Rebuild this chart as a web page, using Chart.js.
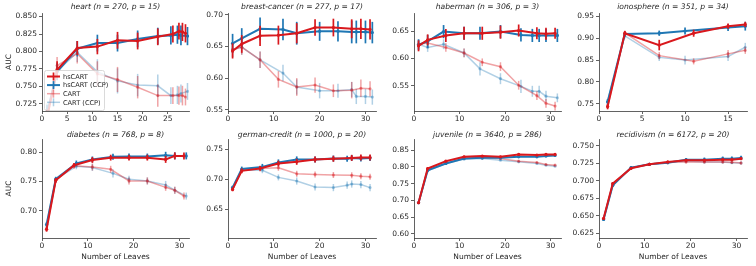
<!DOCTYPE html>
<html>
<head>
<meta charset="utf-8">
<script src="https://cdn.jsdelivr.net/npm/chart.js@4/dist/chart.umd.min.js"></script>
<style>
  body { margin: 0; background: #fff; }
  #figure { position: relative; width: 756px; height: 266px; overflow: hidden; }
  #figure canvas { position: absolute; }
</style>
</head>
<body>
<div id="figure"></div>
<script>
// ---- data ----
const seriesNames = ["hsCART", "hsCART (CCP)", "CART", "CART (CCP)"];
const leaves = [1, 3, 7, 11, 15, 19, 23, 27, 29, 31];

// heart
const heartX = [1, 3, 7, 11, 15, 19, 23, 26, 27.2, 27.9, 28.5];
const heartXCcp = [1, 3, 7, 11, 15, 19, 23, 25.6, 26.9, 27.6, 28.9];
const heartHs = [0.705, 0.774, 0.805, 0.807, 0.816, 0.815, 0.821, 0.825, 0.829, 0.828, 0.826];
const heartHsErr = [0.012, 0.012, 0.010, 0.011, 0.012, 0.012, 0.012, 0.012, 0.012, 0.013, 0.013];
const heartHsCcp = [0.712, 0.771, 0.804, 0.812, 0.812, 0.818, 0.822, 0.823, 0.824, 0.823, 0.822];
const heartHsCcpErr = [0.012, 0.012, 0.011, 0.012, 0.012, 0.012, 0.012, 0.013, 0.013, 0.014, 0.013];
const heartCart = [0.705, 0.780, 0.797, 0.768, 0.760, 0.749, 0.737, 0.737, 0.737, 0.737, 0.735];
const heartCartErr = [0.014, 0.012, 0.014, 0.018, 0.018, 0.016, 0.016, 0.012, 0.013, 0.014, 0.012];
const heartCartCcp = [0.712, 0.772, 0.799, 0.771, 0.758, 0.752, 0.751, 0.737, 0.738, 0.740, 0.743];
const heartCartCcpErr = [0.014, 0.012, 0.014, 0.018, 0.018, 0.016, 0.016, 0.012, 0.013, 0.013, 0.012];
const heartYTicks = [0.725, 0.750, 0.775, 0.800, 0.825, 0.850];

// breast-cancer
const breastXCcp = [1, 3, 7, 12, 15, 20, 24, 27, 28, 30, 31.5];
const breastHs = [0.643, 0.654, 0.667, 0.668, 0.671, 0.680, 0.680, 0.678, 0.678, 0.677];
const breastHsErr = [0.012, 0.014, 0.016, 0.015, 0.016, 0.013, 0.014, 0.015, 0.016, 0.016];
const breastHsCcp = [0.655, 0.663, 0.678, 0.677, 0.671, 0.674, 0.674, 0.673, 0.673, 0.673, 0.672];
const breastHsCcpErr = [0.015, 0.016, 0.018, 0.017, 0.018, 0.015, 0.016, 0.018, 0.018, 0.018, 0.017];
const breastCart = [0.645, 0.649, 0.629, 0.598, 0.586, 0.589, 0.580, 0.581, 0.584, 0.583];
const breastCartErr = [0.012, 0.012, 0.013, 0.013, 0.014, 0.012, 0.010, 0.013, 0.014, 0.012];
const breastCartCcp = [0.645, 0.649, 0.629, 0.608, 0.586, 0.580, 0.580, 0.582, 0.571, 0.571, 0.570];
const breastCartCcpErr = [0.012, 0.012, 0.013, 0.013, 0.012, 0.012, 0.011, 0.012, 0.012, 0.012, 0.012];
const breastYTicks = [0.55, 0.60, 0.65, 0.70];

// haberman
const habermanXCcp = [1, 3, 6.5, 11, 14.5, 19, 23.5, 26, 27.5, 29, 31.5];
const habermanHs = [0.623, 0.634, 0.642, 0.646, 0.646, 0.648, 0.651, 0.646, 0.645, 0.646];
const habermanHsErr = [0.010, 0.010, 0.012, 0.012, 0.012, 0.012, 0.011, 0.011, 0.011, 0.010];
const habermanHsCcp = [0.625, 0.631, 0.649, 0.646, 0.646, 0.649, 0.643, 0.642, 0.642, 0.642, 0.642];
const habermanHsCcpErr = [0.010, 0.012, 0.012, 0.012, 0.012, 0.012, 0.012, 0.012, 0.012, 0.012, 0.012];
const habermanCart = [0.626, 0.628, 0.620, 0.610, 0.593, 0.585, 0.551, 0.532, 0.518, 0.513];
const habermanCartErr = [0.008, 0.008, 0.008, 0.008, 0.007, 0.008, 0.008, 0.008, 0.008, 0.008];
const habermanCartCcp = [0.626, 0.620, 0.626, 0.610, 0.581, 0.563, 0.549, 0.540, 0.540, 0.531, 0.528];
const habermanCartCcpErr = [0.008, 0.008, 0.009, 0.008, 0.012, 0.010, 0.012, 0.010, 0.010, 0.010, 0.008];
const habermanYTicks = [0.55, 0.60, 0.65];

// ionosphere
const ionoX = [1, 3, 7, 11, 15, 17];
const ionoXCcp = [1, 3, 7, 10, 15, 17];
const ionoHs = [0.744, 0.911, 0.884, 0.911, 0.927, 0.931];
const ionoHsErr = [0.006, 0.005, 0.012, 0.008, 0.006, 0.006];
const ionoHsCcp = [0.755, 0.909, 0.911, 0.916, 0.924, 0.927];
const ionoHsCcpErr = [0.006, 0.006, 0.006, 0.008, 0.008, 0.010];
const ionoCart = [0.744, 0.912, 0.860, 0.847, 0.864, 0.872];
const ionoCartErr = [0.006, 0.005, 0.008, 0.007, 0.009, 0.008];
const ionoCartCcp = [0.755, 0.905, 0.856, 0.850, 0.858, 0.879];
const ionoCartCcpErr = [0.006, 0.006, 0.008, 0.010, 0.010, 0.010];
const ionoYTicks = [0.75, 0.80, 0.85, 0.90, 0.95];

// diabetes
const diabetesXCcp = [1, 3, 7.5, 11, 15.5, 19, 23, 27, 29, 31.5];
const diabetesHs = [0.668, 0.752, 0.778, 0.787, 0.791, 0.791, 0.791, 0.788, 0.794, 0.794];
const diabetesHsErr = [0.004, 0.004, 0.004, 0.005, 0.005, 0.005, 0.005, 0.006, 0.006, 0.006];
const diabetesHsCcp = [0.676, 0.754, 0.781, 0.788, 0.7925, 0.793, 0.793, 0.795, 0.794, 0.794];
const diabetesHsCcpErr = [0.004, 0.004, 0.005, 0.005, 0.005, 0.005, 0.005, 0.006, 0.006, 0.006];
const diabetesCart = [0.668, 0.752, 0.777, 0.775, 0.771, 0.751, 0.751, 0.740, 0.735, 0.725];
const diabetesCartErr = [0.004, 0.004, 0.005, 0.006, 0.006, 0.006, 0.006, 0.006, 0.006, 0.006];
const diabetesCartCcp = [0.676, 0.754, 0.776, 0.774, 0.764, 0.754, 0.751, 0.744, 0.735, 0.725];
const diabetesCartCcpErr = [0.004, 0.004, 0.005, 0.006, 0.007, 0.006, 0.006, 0.007, 0.006, 0.006];
const diabetesYTicks = [0.70, 0.75, 0.80];

// german-credit
const germanXCcp = [1, 3, 7.5, 11, 15, 19, 23, 26, 27, 29, 31];
const germanHs = [0.683, 0.714, 0.718, 0.726, 0.729, 0.733, 0.734, 0.7355, 0.736, 0.736];
const germanHsErr = [0.003, 0.004, 0.004, 0.005, 0.005, 0.005, 0.005, 0.005, 0.005, 0.005];
const germanHsCcp = [0.686, 0.717, 0.7205, 0.728, 0.733, 0.733, 0.7345, 0.734, 0.7355, 0.7345, 0.7355];
const germanHsCcpErr = [0.003, 0.004, 0.005, 0.005, 0.005, 0.005, 0.005, 0.005, 0.005, 0.005, 0.005];
const germanCart = [0.683, 0.715, 0.718, 0.719, 0.709, 0.708, 0.707, 0.7065, 0.705, 0.704];
const germanCartErr = [0.003, 0.004, 0.005, 0.005, 0.005, 0.005, 0.005, 0.005, 0.005, 0.005];
const germanCartCcp = [0.686, 0.715, 0.715, 0.703, 0.697, 0.687, 0.686, 0.690, 0.692, 0.691, 0.686];
const germanCartCcpErr = [0.003, 0.004, 0.005, 0.005, 0.006, 0.006, 0.006, 0.006, 0.006, 0.006, 0.006];
const germanYTicks = [0.65, 0.70, 0.75];

// juvenile
const juvenileHs = [0.693, 0.795, 0.817, 0.830, 0.832, 0.830, 0.837, 0.835, 0.837, 0.837];
const juvenileHsErr = [0.003, 0.004, 0.003, 0.003, 0.003, 0.003, 0.003, 0.003, 0.003, 0.003];
const juvenileHsCcp = [0.693, 0.790, 0.810, 0.825, 0.827, 0.827, 0.830, 0.830, 0.832, 0.834];
const juvenileHsCcpErr = [0.003, 0.004, 0.003, 0.003, 0.003, 0.003, 0.003, 0.003, 0.003, 0.003];
const juvenileCart = [0.693, 0.793, 0.815, 0.827, 0.827, 0.825, 0.817, 0.813, 0.807, 0.805];
const juvenileCartErr = [0.003, 0.004, 0.003, 0.003, 0.003, 0.003, 0.003, 0.003, 0.003, 0.003];
const juvenileCartCcp = [0.693, 0.788, 0.810, 0.823, 0.825, 0.820, 0.815, 0.810, 0.805, 0.802];
const juvenileCartCcpErr = [0.003, 0.004, 0.003, 0.003, 0.003, 0.003, 0.003, 0.003, 0.003, 0.003];
const juvenileYTicks = [0.60, 0.65, 0.70, 0.75, 0.80, 0.85];

// recidivism
const recidHs = [0.646, 0.696, 0.718, 0.7237, 0.727, 0.7294, 0.7294, 0.7304, 0.7304, 0.7318];
const recidHsErr = [0.002, 0.002, 0.002, 0.002, 0.002, 0.002, 0.002, 0.002, 0.002, 0.002];
const recidHsCcp = [0.6446, 0.6935, 0.719, 0.7237, 0.726, 0.7304, 0.7304, 0.7318, 0.7318, 0.7328];
const recidHsCcpErr = [0.002, 0.002, 0.002, 0.002, 0.002, 0.002, 0.003, 0.003, 0.003, 0.003];
const recidCart = [0.646, 0.696, 0.718, 0.7237, 0.727, 0.727, 0.727, 0.727, 0.7265, 0.7256];
const recidCartErr = [0.002, 0.002, 0.002, 0.002, 0.002, 0.002, 0.002, 0.002, 0.002, 0.002];
const recidCartCcp = [0.6446, 0.6935, 0.719, 0.7237, 0.726, 0.728, 0.727, 0.727, 0.726, 0.7256];
const recidCartCcpErr = [0.002, 0.002, 0.002, 0.002, 0.002, 0.002, 0.002, 0.002, 0.002, 0.002];
const recidYTicks = [0.625, 0.650, 0.675, 0.700, 0.725, 0.750];

const xTicks30 = [0, 10, 20, 30];

// ---- style ----
const RED = "#d9181d";
const BLUE = "#1f77b4";
const RED_LIGHT = "rgba(217, 24, 29, 0.4)";
const BLUE_LIGHT = "rgba(31, 119, 180, 0.35)";
const FONT = "'DejaVu Sans', sans-serif";
const TEXT = "#262626";
const SPINE = "#3a3a3a";

// col: plot left/right, row: canvas top, plot height, x-axis height
const cols = [
    { left: 42, right: 193, yw: 42 },
    { left: 228, right: 380, yw: 30 },
    { left: 414, right: 565, yw: 30 },
    { left: 599, right: 751, yw: 30 }
];
const rows = [
    { top: 0, plotH: 98, xh: 15, titleY: 7 },
    { top: 126, plotH: 99, xh: 28, titleY: 9 }
];
const TITLE_H = 13;

function pts(xs, ys) {
    return xs.map((x, i) => ({ x: x, y: ys[i] }));
}

function makeSeries(x, xCcp, hs, hsErr, hsCcp, hsCcpErr, cart, cartErr, cartCcp, cartCcpErr) {
    return [
        { label: seriesNames[0], data: pts(x, hs), errors: hsErr, borderColor: RED, borderWidth: 2, order: 0 },
        { label: seriesNames[1], data: pts(xCcp, hsCcp), errors: hsCcpErr, borderColor: BLUE, borderWidth: 2, order: 1 },
        { label: seriesNames[2], data: pts(x, cart), errors: cartErr, borderColor: RED_LIGHT, borderWidth: 1.5, order: 2 },
        { label: seriesNames[3], data: pts(xCcp, cartCcp), errors: cartCcpErr, borderColor: BLUE_LIGHT, borderWidth: 1.5, order: 3 }
    ];
}

const panels = [
    { title: "heart (n = 270, p = 15)", row: 0, col: 0, xMax: 29.2, xTicks: [0, 5, 10, 15, 20, 25],
      yMin: 0.715, yMax: 0.855, yTicks: heartYTicks, dec: 3, legend: true,
      series: makeSeries(heartX, heartXCcp, heartHs, heartHsErr, heartHsCcp, heartHsCcpErr, heartCart, heartCartErr, heartCartCcp, heartCartCcpErr) },
    { title: "breast-cancer (n = 277, p = 17)", row: 0, col: 1, xMax: 32.3, xTicks: xTicks30,
      yMin: 0.548, yMax: 0.703, yTicks: breastYTicks, dec: 2,
      series: makeSeries(leaves, breastXCcp, breastHs, breastHsErr, breastHsCcp, breastHsCcpErr, breastCart, breastCartErr, breastCartCcp, breastCartCcpErr) },
    { title: "haberman (n = 306, p = 3)", row: 0, col: 2, xMax: 32.3, xTicks: xTicks30,
      yMin: 0.504, yMax: 0.683, yTicks: habermanYTicks, dec: 2,
      series: makeSeries(leaves, habermanXCcp, habermanHs, habermanHsErr, habermanHsCcp, habermanHsCcpErr, habermanCart, habermanCartErr, habermanCartCcp, habermanCartCcpErr) },
    { title: "ionosphere (n = 351, p = 34)", row: 0, col: 3, xMax: 17.2, xTicks: [0, 5, 10, 15],
      yMin: 0.734, yMax: 0.957, yTicks: ionoYTicks, dec: 2,
      series: makeSeries(ionoX, ionoXCcp, ionoHs, ionoHsErr, ionoHsCcp, ionoHsCcpErr, ionoCart, ionoCartErr, ionoCartCcp, ionoCartCcpErr) },
    { title: "diabetes (n = 768, p = 8)", row: 1, col: 0, xMax: 32.1, xTicks: xTicks30,
      yMin: 0.653, yMax: 0.823, yTicks: diabetesYTicks, dec: 2,
      series: makeSeries(leaves, diabetesXCcp, diabetesHs, diabetesHsErr, diabetesHsCcp, diabetesHsCcpErr, diabetesCart, diabetesCartErr, diabetesCartCcp, diabetesCartCcpErr) },
    { title: "german-credit (n = 1000, p = 20)", row: 1, col: 1, xMax: 32.3, xTicks: xTicks30,
      yMin: 0.602, yMax: 0.767, yTicks: germanYTicks, dec: 2,
      series: makeSeries(leaves, germanXCcp, germanHs, germanHsErr, germanHsCcp, germanHsCcpErr, germanCart, germanCartErr, germanCartCcp, germanCartCcpErr) },
    { title: "juvenile (n = 3640, p = 286)", row: 1, col: 2, xMax: 32.3, xTicks: xTicks30,
      yMin: 0.588, yMax: 0.883, yTicks: juvenileYTicks, dec: 2,
      series: makeSeries(leaves, leaves, juvenileHs, juvenileHsErr, juvenileHsCcp, juvenileHsCcpErr, juvenileCart, juvenileCartErr, juvenileCartCcp, juvenileCartCcpErr) },
    { title: "recidivism (n = 6172, p = 20)", row: 1, col: 3, xMax: 32.3, xTicks: xTicks30,
      yMin: 0.618, yMax: 0.760, yTicks: recidYTicks, dec: 3,
      series: makeSeries(leaves, leaves, recidHs, recidHsErr, recidHsCcp, recidHsCcpErr, recidCart, recidCartErr, recidCartCcp, recidCartCcpErr) }
];

// Vertical error bars, drawn right after each dataset so layering follows dataset order
const errorBarPlugin = {
    id: "errorBars",
    afterDatasetDraw(chart, args) {
        const ds = chart.data.datasets[args.index];
        if (!ds.errors) return;
        const ctx = chart.ctx;
        const area = chart.chartArea;
        const yScale = chart.scales.y;
        ctx.save();
        ctx.beginPath();
        ctx.rect(area.left, area.top, area.right - area.left, area.bottom - area.top);
        ctx.clip();
        ctx.strokeStyle = ds.borderColor;
        ctx.lineWidth = ds.order < 2 ? 1.7 : 1.5;
        args.meta.data.forEach((pt, i) => {
            const v = ds.data[i].y;
            const e = ds.errors[i];
            ctx.beginPath();
            ctx.moveTo(pt.x, yScale.getPixelForValue(v - e));
            ctx.lineTo(pt.x, yScale.getPixelForValue(v + e));
            ctx.stroke();
        });
        ctx.restore();
    }
};

// Panel title centred over the plot area (not the whole canvas)
const panelTitlePlugin = {
    id: "panelTitle",
    afterDraw(chart, args, opts) {
        const ctx = chart.ctx;
        const area = chart.chartArea;
        ctx.save();
        ctx.font = "italic 7.6px " + FONT;
        ctx.fillStyle = TEXT;
        ctx.textAlign = "center";
        ctx.textBaseline = "middle";
        ctx.fillText(opts.text, (area.left + area.right) / 2, opts.y);
        ctx.restore();
    }
};

// Boxed legend inside the plot area (lower left), like the matplotlib one
const innerLegendPlugin = {
    id: "innerLegend",
    afterDraw(chart, args, opts) {
        if (!opts.show) return;
        const ctx = chart.ctx;
        const area = chart.chartArea;
        const x0 = area.left + 2, y0 = area.bottom - 41, w = 60, h = 40;
        ctx.save();
        ctx.beginPath();
        ctx.roundRect(x0 + 0.5, y0 + 0.5, w, h, 2);
        ctx.fillStyle = "rgba(255,255,255,0.8)";
        ctx.fill();
        ctx.strokeStyle = "#d0d0d0";
        ctx.lineWidth = 0.8;
        ctx.stroke();
        ctx.font = "6.6px " + FONT;
        ctx.textBaseline = "middle";
        chart.data.datasets.forEach((ds, i) => {
            const cy = y0 + 6.5 + i * 8.6;
            ctx.strokeStyle = ds.borderColor;
            ctx.lineWidth = ds.borderWidth;
            ctx.beginPath();
            ctx.moveTo(x0 + 3, cy);
            ctx.lineTo(x0 + 16, cy);
            ctx.stroke();
            ctx.lineWidth = ds.order < 2 ? 1.7 : 1.5;
            ctx.beginPath();
            ctx.moveTo(x0 + 9.5, cy - 4);
            ctx.lineTo(x0 + 9.5, cy + 4);
            ctx.stroke();
            ctx.fillStyle = TEXT;
            ctx.fillText(ds.label, x0 + 19, cy + 0.5);
        });
        ctx.restore();
    }
};

function createPanel(p) {
    const col = cols[p.col];
    const row = rows[p.row];
    const canvas = document.createElement("canvas");
    const width = col.yw + (col.right - col.left);
    const height = TITLE_H + row.plotH + row.xh;
    canvas.width = width;
    canvas.height = height;
    canvas.style.left = (col.left - col.yw) + "px";
    canvas.style.top = row.top + "px";
    document.getElementById("figure").appendChild(canvas);

    const tickFont = { family: FONT, size: 7.5 };
    const datasets = p.series.map((s) => ({
        label: s.label,
        data: s.data,
        errors: s.errors,
        order: s.order,
        borderColor: s.borderColor,
        backgroundColor: s.borderColor,
        borderWidth: s.borderWidth,
        pointBackgroundColor: s.borderColor,
        pointBorderWidth: 0,
        pointRadius: 1.6,
        tension: 0
    }));

    new Chart(canvas, {
        type: "line",
        data: { datasets: datasets },
        plugins: [errorBarPlugin, innerLegendPlugin, panelTitlePlugin],
        options: {
            responsive: false,
            animation: false,
            devicePixelRatio: 1,
            layout: { padding: { top: TITLE_H, left: 0, right: 0, bottom: 0 } },
            plugins: {
                legend: { display: false },
                tooltip: { enabled: false },
                title: { display: false },
                innerLegend: { show: !!p.legend },
                panelTitle: { text: p.title, y: row.titleY }
            },
            scales: {
                x: {
                    type: "linear",
                    min: 0,
                    max: p.xMax,
                    afterBuildTicks: (s) => { s.ticks = p.xTicks.map((v) => ({ value: v })); },
                    afterFit: (s) => { s.height = row.xh; },
                    ticks: { font: tickFont, color: TEXT, padding: 1, maxRotation: 0, autoSkip: false },
                    grid: { drawOnChartArea: false, tickLength: 3, color: SPINE, lineWidth: 0.8 },
                    border: { color: SPINE, width: 0.8 },
                    title: {
                        display: p.row === 1,
                        text: "Number of Leaves",
                        color: TEXT,
                        font: { family: FONT, size: 7.5, lineHeight: 1.2 },
                        padding: { top: 4.5, bottom: 4.5 }
                    }
                },
                y: {
                    type: "linear",
                    min: p.yMin,
                    max: p.yMax,
                    afterBuildTicks: (s) => { s.ticks = p.yTicks.map((v) => ({ value: v })); },
                    afterFit: (s) => { s.width = col.yw; },
                    ticks: {
                        font: tickFont, color: TEXT, padding: 2, autoSkip: false,
                        callback: (v) => Number(v).toFixed(p.dec)
                    },
                    grid: { drawOnChartArea: false, tickLength: 3, color: SPINE, lineWidth: 0.8 },
                    border: { color: SPINE, width: 0.8 },
                    title: {
                        display: p.col === 0,
                        text: "AUC",
                        color: TEXT,
                        font: { family: FONT, size: 7.5, lineHeight: 1.2 },
                        padding: { top: 4.5, bottom: 4.5 }
                    }
                }
            }
        }
    });
}

panels.forEach(createPanel);
</script>
</body>
</html>
